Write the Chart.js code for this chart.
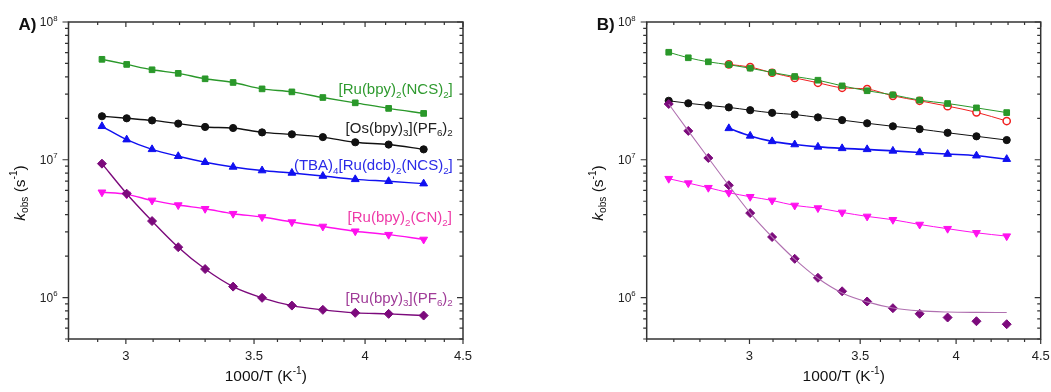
<!DOCTYPE html>
<html>
<head>
<meta charset="utf-8">
<script src="https://cdn.jsdelivr.net/npm/chart.js@4"></script>
<style>
  html, body { margin: 0; padding: 0; background: #fff; }
  #wrap { position: relative; width: 1051px; height: 392px; }
  canvas { position: absolute; top: 0; }
</style>
</head>
<body>
<div id="wrap">
  <canvas id="chartA" width="525" height="392" style="left:0"></canvas>
  <canvas id="chartB" width="526" height="392" style="left:525px"></canvas>
</div>
<script>
// 1000/T values (K^-1)
const xA = [2.915, 3.003, 3.096, 3.195, 3.300, 3.413, 3.534, 3.663, 3.802, 3.953, 4.115, 4.292];
const xB = [2.681, 2.755, 2.833, 2.915, 3.003, 3.096, 3.195, 3.300, 3.413, 3.534, 3.663, 3.802, 3.953, 4.115, 4.292];

// panel A, k_obs (s^-1)
const aNCS  = [5.36e7, 4.92e7, 4.50e7, 4.24e7, 3.87e7, 3.64e7, 3.27e7, 3.11e7, 2.83e7, 2.59e7, 2.36e7, 2.17e7];
const aOs   = [2.07e7, 2.00e7, 1.93e7, 1.83e7, 1.73e7, 1.70e7, 1.58e7, 1.53e7, 1.46e7, 1.34e7, 1.29e7, 1.19e7];
const aTBA  = [1.75e7, 1.40e7, 1.19e7, 1.06e7, 9.6e6, 8.87e6, 8.35e6, 8.02e6, 7.62e6, 7.21e6, 6.98e6, 6.71e6];
const aCN   = [5.81e6, 5.61e6, 5.07e6, 4.69e6, 4.41e6, 4.06e6, 3.84e6, 3.53e6, 3.28e6, 3.03e6, 2.86e6, 2.64e6];
const aBpy3 = [9.37e6, 5.67e6, 3.59e6, 2.32e6, 1.61e6, 1.20e6, 9.95e5, 8.74e5, 8.14e5, 7.74e5, 7.61e5, 7.40e5];

// panel B, k_obs (s^-1)
const bNCS    = [6.03e7, 5.50e7, 5.14e7, 4.90e7, 4.62e7, 4.30e7, 4.02e7, 3.78e7, 3.44e7, 3.17e7, 2.96e7, 2.71e7, 2.56e7, 2.38e7, 2.20e7];
const bNCSred = [null, null, null, 4.92e7, 4.71e7, 4.28e7, 3.93e7, 3.62e7, 3.33e7, 3.26e7, 2.91e7, 2.68e7, 2.45e7, 2.21e7, 1.91e7];
const bOs     = [2.68e7, 2.57e7, 2.48e7, 2.40e7, 2.29e7, 2.19e7, 2.13e7, 2.03e7, 1.94e7, 1.84e7, 1.75e7, 1.67e7, 1.57e7, 1.48e7, 1.39e7];
const bTBA    = [null, null, null, 1.69e7, 1.49e7, 1.36e7, 1.29e7, 1.24e7, 1.21e7, 1.19e7, 1.16e7, 1.13e7, 1.10e7, 1.07e7, 1.01e7];
const bCN     = [7.29e6, 6.77e6, 6.27e6, 5.77e6, 5.39e6, 5.07e6, 4.66e6, 4.46e6, 4.15e6, 3.88e6, 3.67e6, 3.39e6, 3.16e6, 2.95e6, 2.79e6];
const bBpy3   = [2.54e7, 1.62e7, 1.03e7, 6.53e6, 4.10e6, 2.75e6, 1.91e6, 1.39e6, 1.11e6, 9.36e5, 8.37e5, 7.62e5, 7.16e5, 6.73e5, 6.40e5];
const bBpy3Fit = [2.54e7, 1.62e7, 1.03e7, 6.5e6, 4.1e6, 2.75e6, 1.9e6, 1.38e6, 1.08e6, 9.3e5, 8.4e5, 8.0e5, 7.85e5, 7.8e5, 7.78e5];

const xTicks = [3, 3.5, 4, 4.5];
const yDecades = [6, 7, 8];

const FONT = '"Liberation Sans", Arial, sans-serif';
const GREEN = '#2a982a', BLACK = '#111', BLUE = '#1010f0', PINK = '#ff10ee', PURPLE = '#7c0a7c', RED = '#f02020';

function pts(xs, ys) {
  const out = [];
  xs.forEach((x, i) => { if (ys[i] != null) out.push({ x: x, y: ys[i] }); });
  return out;
}

function series(xs, ys, color, style, opts) {
  return Object.assign({
    data: pts(xs, ys),
    borderColor: color,
    backgroundColor: color,
    pointBorderColor: color,
    pointBackgroundColor: color,
    pointStyle: style,
    pointRadius: 3.8,
    pointBorderWidth: 1,
    borderWidth: 1.4,
    cubicInterpolationMode: 'monotone',
    showLine: true
  }, opts || {});
}

// text with sub/superscripts: parts = [[text, kind]] kind: '', 'sub', 'sup', 'it'
function drawRich(ctx, x, y, parts, align, size, color, bold) {
  const w = bold ? 'bold ' : '';
  const fontFor = k => (k === 'it' ? 'italic ' : '') + w +
    ((k === 'sub' || k === 'sup') ? (size * 0.65).toFixed(1) : size) + 'px ' + FONT;
  let total = 0;
  parts.forEach(p => { ctx.font = fontFor(p[1]); total += ctx.measureText(p[0]).width; });
  let cx = align === 'right' ? x - total : align === 'center' ? x - total / 2 : x;
  ctx.fillStyle = color;
  ctx.textBaseline = 'middle';
  ctx.textAlign = 'left';
  parts.forEach(p => {
    ctx.font = fontFor(p[1]);
    let dy = 0;
    if (p[1] === 'sub') dy = size * 0.32;
    if (p[1] === 'sup') dy = -size * 0.38;
    ctx.fillText(p[0], cx, y + dy);
    cx += ctx.measureText(p[0]).width;
  });
}

const labelsA = [
  { x: 4.445, y: 3.2e7, color: '#2f9a2f', parts: [['[Ru(bpy)', ''], ['2', 'sub'], ['(NCS)', ''], ['2', 'sub'], [']', '']] },
  { x: 4.445, y: 1.69e7, color: '#222', parts: [['[Os(bpy)', ''], ['3', 'sub'], ['](PF', ''], ['6', 'sub'], [')', ''], ['2', 'sub']] },
  { x: 4.445, y: 8.97e6, color: '#2a2ae8', parts: [['(TBA)', ''], ['4', 'sub'], ['[Ru(dcb)', ''], ['2', 'sub'], ['(NCS)', ''], ['2', 'sub'], [']', '']] },
  { x: 4.44, y: 3.76e6, color: '#ee3aa8', parts: [['[Ru(bpy)', ''], ['2', 'sub'], ['(CN)', ''], ['2', 'sub'], [']', '']] },
  { x: 4.445, y: 9.8e5, color: '#a03c98', parts: [['[Ru(bpy)', ''], ['3', 'sub'], ['](PF', ''], ['6', 'sub'], [')', ''], ['2', 'sub']] }
];

function decorPlugin(letter, labels) {
  return {
    id: 'decor',
    afterDraw(chart) {
      const ctx = chart.ctx;
      const a = chart.chartArea;
      const xs = chart.scales.x, ys = chart.scales.y;
      ctx.save();
      // frame
      ctx.strokeStyle = '#333';
      ctx.lineWidth = 1.5;
      ctx.strokeRect(a.left, a.top, a.right - a.left, a.bottom - a.top);
      ctx.lineWidth = 1.2;
      ctx.beginPath();
      // x ticks every 0.1, major every 0.5
      for (let i = Math.ceil(xs.min * 10); i <= Math.floor(xs.max * 10 + 1e-6); i++) {
        const v = i / 10;
        const px = xs.getPixelForValue(v);
        const major = i % 5 === 0;
        const len = major ? 5 : 3;
        ctx.moveTo(px, a.bottom); ctx.lineTo(px, a.bottom + len);
        ctx.moveTo(px, a.top); ctx.lineTo(px, a.top + len);
      }
      // y ticks, log decades and minors
      for (let d = 5; d <= 8; d++) {
        for (let m = 1; m <= 9; m++) {
          const v = m * Math.pow(10, d);
          if (v < ys.min * 0.999 || v > ys.max * 1.001) continue;
          const py = ys.getPixelForValue(v);
          const len = m === 1 ? 6 : 3.5;
          ctx.moveTo(a.left, py); ctx.lineTo(a.left - len, py);
          ctx.moveTo(a.right, py); ctx.lineTo(a.right - len, py);
        }
      }
      ctx.stroke();
      // x tick labels
      xTicks.forEach(v => {
        drawRich(ctx, xs.getPixelForValue(v), a.bottom + 17, [[String(v), '']], 'center', 13, '#222');
      });
      // y tick labels
      yDecades.forEach(d => {
        const py = ys.getPixelForValue(Math.pow(10, d));
        drawRich(ctx, a.left - 11, py + 1, [['10', ''], [String(d), 'sup']], 'right', 12, '#222');
      });
      // axis titles
      drawRich(ctx, (a.left + a.right) / 2, 377, [['1000/T (K', ''], ['-1', 'sup'], [')', '']], 'center', 15.5, '#111');
      ctx.save();
      ctx.translate(a.left - 48, 193);
      ctx.rotate(-Math.PI / 2);
      drawRich(ctx, 0, 0, [['k', 'it'], ['obs', 'sub'], [' (s', ''], ['-1', 'sup'], [')', '']], 'center', 15.5, '#111');
      ctx.restore();
      // panel letter
      drawRich(ctx, a.left - 32, a.top + 3, [[letter, '']], 'right', 17, '#111', true);
      // compound labels
      (labels || []).forEach(l => {
        drawRich(ctx, xs.getPixelForValue(l.x), ys.getPixelForValue(l.y), l.parts, 'right', 15, l.color);
      });
      ctx.restore();
    }
  };
}

function makeChart(id, datasets, xmin, padding, letter, labels) {
  return new Chart(document.getElementById(id), {
    type: 'scatter',
    data: { datasets: datasets },
    options: {
      responsive: false,
      animation: false,
      devicePixelRatio: 1,
      layout: { padding: padding },
      plugins: { legend: { display: false }, tooltip: { enabled: false } },
      scales: {
        x: { type: 'logarithmic', display: false, min: xmin, max: 4.5 },
        y: { type: 'logarithmic', display: false, min: 5e5, max: 1e8 }
      }
    },
    plugins: [decorPlugin(letter, labels)]
  });
}

makeChart('chartA', [
  series(xA, aBpy3, PURPLE, 'rectRot', { pointRadius: 4.5 }),
  series(xA, aCN, PINK, 'triangle', { rotation: 180, pointRadius: 4.5 }),
  series(xA, aTBA, BLUE, 'triangle', { pointRadius: 4.5 }),
  series(xA, aOs, BLACK, 'circle', { pointRadius: 3.6 }),
  series(xA, aNCS, GREEN, 'rect', { pointRadius: 4 })
], 2.8, { left: 68.5, top: 22, right: 62, bottom: 53 }, 'A)', labelsA);

makeChart('chartB', [
  series(xB, bBpy3Fit, '#b070b0', 'circle', { pointRadius: 0, borderWidth: 1.1 }),
  series(xB, bBpy3, PURPLE, 'rectRot', { pointRadius: 4.5, showLine: false }),
  series(xB, bCN, PINK, 'triangle', { rotation: 180, pointRadius: 4.5, borderWidth: 1 }),
  series(xB, bTBA, BLUE, 'triangle', { pointRadius: 4.5, borderWidth: 1.6 }),
  series(xB, bOs, BLACK, 'circle', { pointRadius: 3.6, borderWidth: 1 }),
  series(xB, bNCS, GREEN, 'rect', { pointRadius: 4, borderWidth: 1 }),
  series(xB, bNCSred, RED, 'circle', { pointRadius: 3.6, borderWidth: 1, pointBackgroundColor: '#fff', pointBorderWidth: 1.5 })
], 2.6, { left: 121.7, top: 22, right: 10.3, bottom: 53 }, 'B)', []);
</script>
</body>
</html>
